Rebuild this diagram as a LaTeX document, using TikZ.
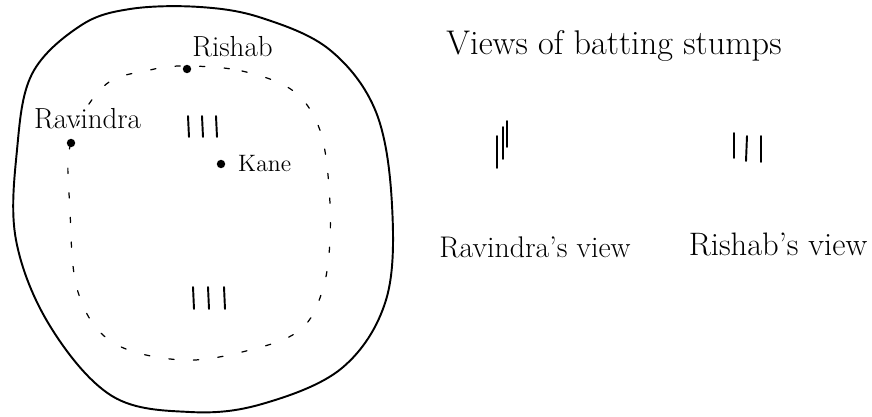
\documentclass[tikz,border=0pt]{standalone}
\usetikzlibrary{positioning}

\begin{document}
\begin{tikzpicture}[
  x=0.02cm, y=-0.02cm,
  line cap=round, line join=round,
  dot/.style={circle, fill=black, inner sep=0pt, minimum size=4.8pt},
  lbl/.style={inner sep=1pt, font=\fontsize{16.5}{18}\selectfont},
  caption/.style={inner sep=1pt, font=\fontsize{17}{20}\selectfont},
  stump/.style={line width=1.1pt},
  boundary/.style={line width=1.1pt},
  circuit/.style={line width=0.7pt, dash pattern=on 3pt off 11pt}]

\useasboundingbox (0,0) rectangle (872,416);

% ===== ground (x=0..392) =====
\draw[boundary] plot[smooth cycle, tension=0.6] coordinates {
  (130,9) (200,7) (262,18) (330,50) (376,112) (392,205) (386,300)
  (342,368) (262,404) (190,412) (112,396) (50,326) (16,240) (17,150)
  (32,74) (80,26)};
\draw[circuit] plot[smooth cycle, tension=0.6] coordinates {
  (187,66) (242,71) (292,90) (318,125) (328,175) (330,240) (322,292)
  (300,330) (250,350) (182,360) (112,342) (78,292) (70,210) (71,142)
  (104,86) (150,70)};

% ===== players =====
\node[dot] (rsh) at (187,69)  {};
\node[dot] (rvd) at (71,143)  {};
\node[dot] (kne) at (221,164) {};
\node[lbl, above right=4pt and 0pt of rsh] (rshl) {Rishab};
\node[lbl, above right=5pt and -24pt of rvd] (rvdl) {Ravindra};
\node[lbl, right=6pt of kne, font=\fontsize{13.5}{15}\selectfont] (knel) {Kane};

% ===== pitch stumps =====
\foreach \sx in {188,202,216} \draw[stump] (\sx,116) -- (\sx+1,137);
\foreach \sx in {193,208,224} \draw[stump] (\sx,287) -- (\sx+1,309);

% ===== views (x=440..870) =====
\node[caption, font=\fontsize{19.5}{22}\selectfont] (ttl) at (614,46) {Views of batting stumps};
\draw[stump] (497,136) -- (497,168);
\draw[stump] (503,127) -- (503,159);
\draw[stump] (507,121) -- (507,147);
\draw[stump] (734,133) -- (734,158);
\draw[stump] (747,136) -- (746,161);
\draw[stump] (761,136) -- (761,162);
\node[caption] (rvdv) at (535,247) {Ravindra's view};
\node[caption, font=\fontsize{18.5}{21}\selectfont] (rshv) at (778,244) {Rishab's view};

\end{tikzpicture}
\end{document}
